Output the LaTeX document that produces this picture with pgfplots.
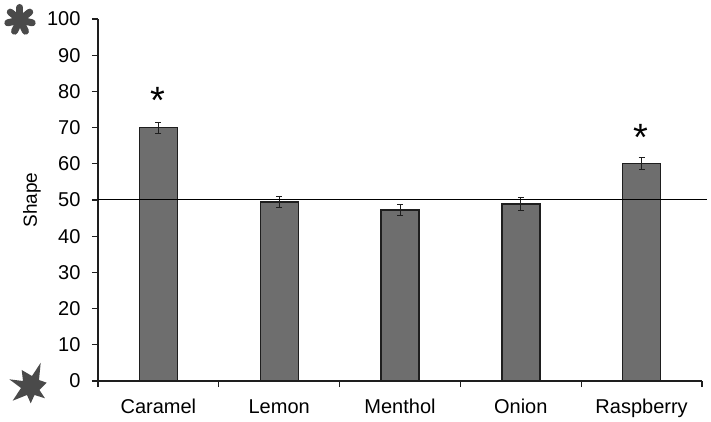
\documentclass[border=0pt]{standalone}
\usepackage{fontspec}
\setmainfont{Liberation Sans}
\usepackage{pgfplots}
\pgfplotsset{compat=1.18}
\definecolor{barfill}{HTML}{6E6E6E}
\definecolor{axisdark}{HTML}{1E1E1E}
\definecolor{blob}{HTML}{4A4A4A}

\begin{document}
\begin{tikzpicture}[x=1pt,y=1pt]
\path[use as bounding box] (-98,-41) rectangle (613,381);
\begin{axis}[
    at={(0pt,0pt)},
    anchor=south west,
    scale only axis,
    width=604pt,
    height=362pt,
    xmin=-0.5, xmax=4.5,
    ymin=0, ymax=100,
    axis x line*=bottom,
    axis y line*=left,
    axis line style={axisdark,line width=1.2pt,-},
    clip=false,
    ytick={0,10,...,100},
    xtick={-0.5,0.5,1.5,2.5,3.5,4.5},
    xticklabels={},
    extra x ticks={0,1,2,3,4},
    extra x tick labels={Caramel,Lemon,Menthol,Onion,Raspberry},
    extra x tick style={major tick length=0pt,tick style={draw=none}},
    tick align=outside,
    major tick length=6pt,
    tick style={axisdark,line width=1.1pt},
    tick label style={font=\fontsize{20}{22}\selectfont,text=black},
    /pgf/number format/assume math mode=true,
    xticklabel style={yshift=-15pt,text height=14pt,text depth=4pt},
    yticklabel style={xshift=-8pt},
    ylabel={Shape},
    ylabel style={font=\fontsize{19}{20}\selectfont,at={(axis description cs:-0.089,0.5)},anchor=south},
]
\addplot[ybar,bar width=38pt,fill=barfill,draw=axisdark,line width=1.4pt,
    error bars/.cd,y dir=both,y explicit,
    error bar style={axisdark,line width=1pt},
    error mark options={rotate=90,mark size=3pt,line width=1pt,axisdark}]
  coordinates {
    (0,70.0) +- (0,1.5)
    (1,49.5) +- (0,1.6)
    (2,47.2) +- (0,1.5)
    (3,48.9) +- (0,1.7)
    (4,60.0) +- (0,1.7)
  };
\addplot[black,line width=1.2pt] coordinates {(-0.5,50.2) (4.54,50.2)};
\node[font=\fontsize{38}{38}\selectfont] at (axis cs:-0.005,77.5) {*};
\node[font=\fontsize{38}{38}\selectfont] at (axis cs:3.995,67.2) {*};
\end{axis}
% the two blots beside the y axis
\fill[blob] (-57.3,18.3) -- (-59,1) -- (-51.3,-1.7) -- (-58.5,-9) -- (-53,-17.3) -- (-63.5,-14)
  -- (-67.3,-22.3) -- (-71,-14) -- (-85.3,-19.7) -- (-77,-7) -- (-88.7,1.7) -- (-75,0) -- (-76.3,11) -- (-66,5) -- cycle;
\foreach \a in {90,141,193,244,296,347,39}
  \draw[blob,line width=7pt,line cap=round] (-78,361) -- ++(\a:12.5);
\end{tikzpicture}
\end{document}
